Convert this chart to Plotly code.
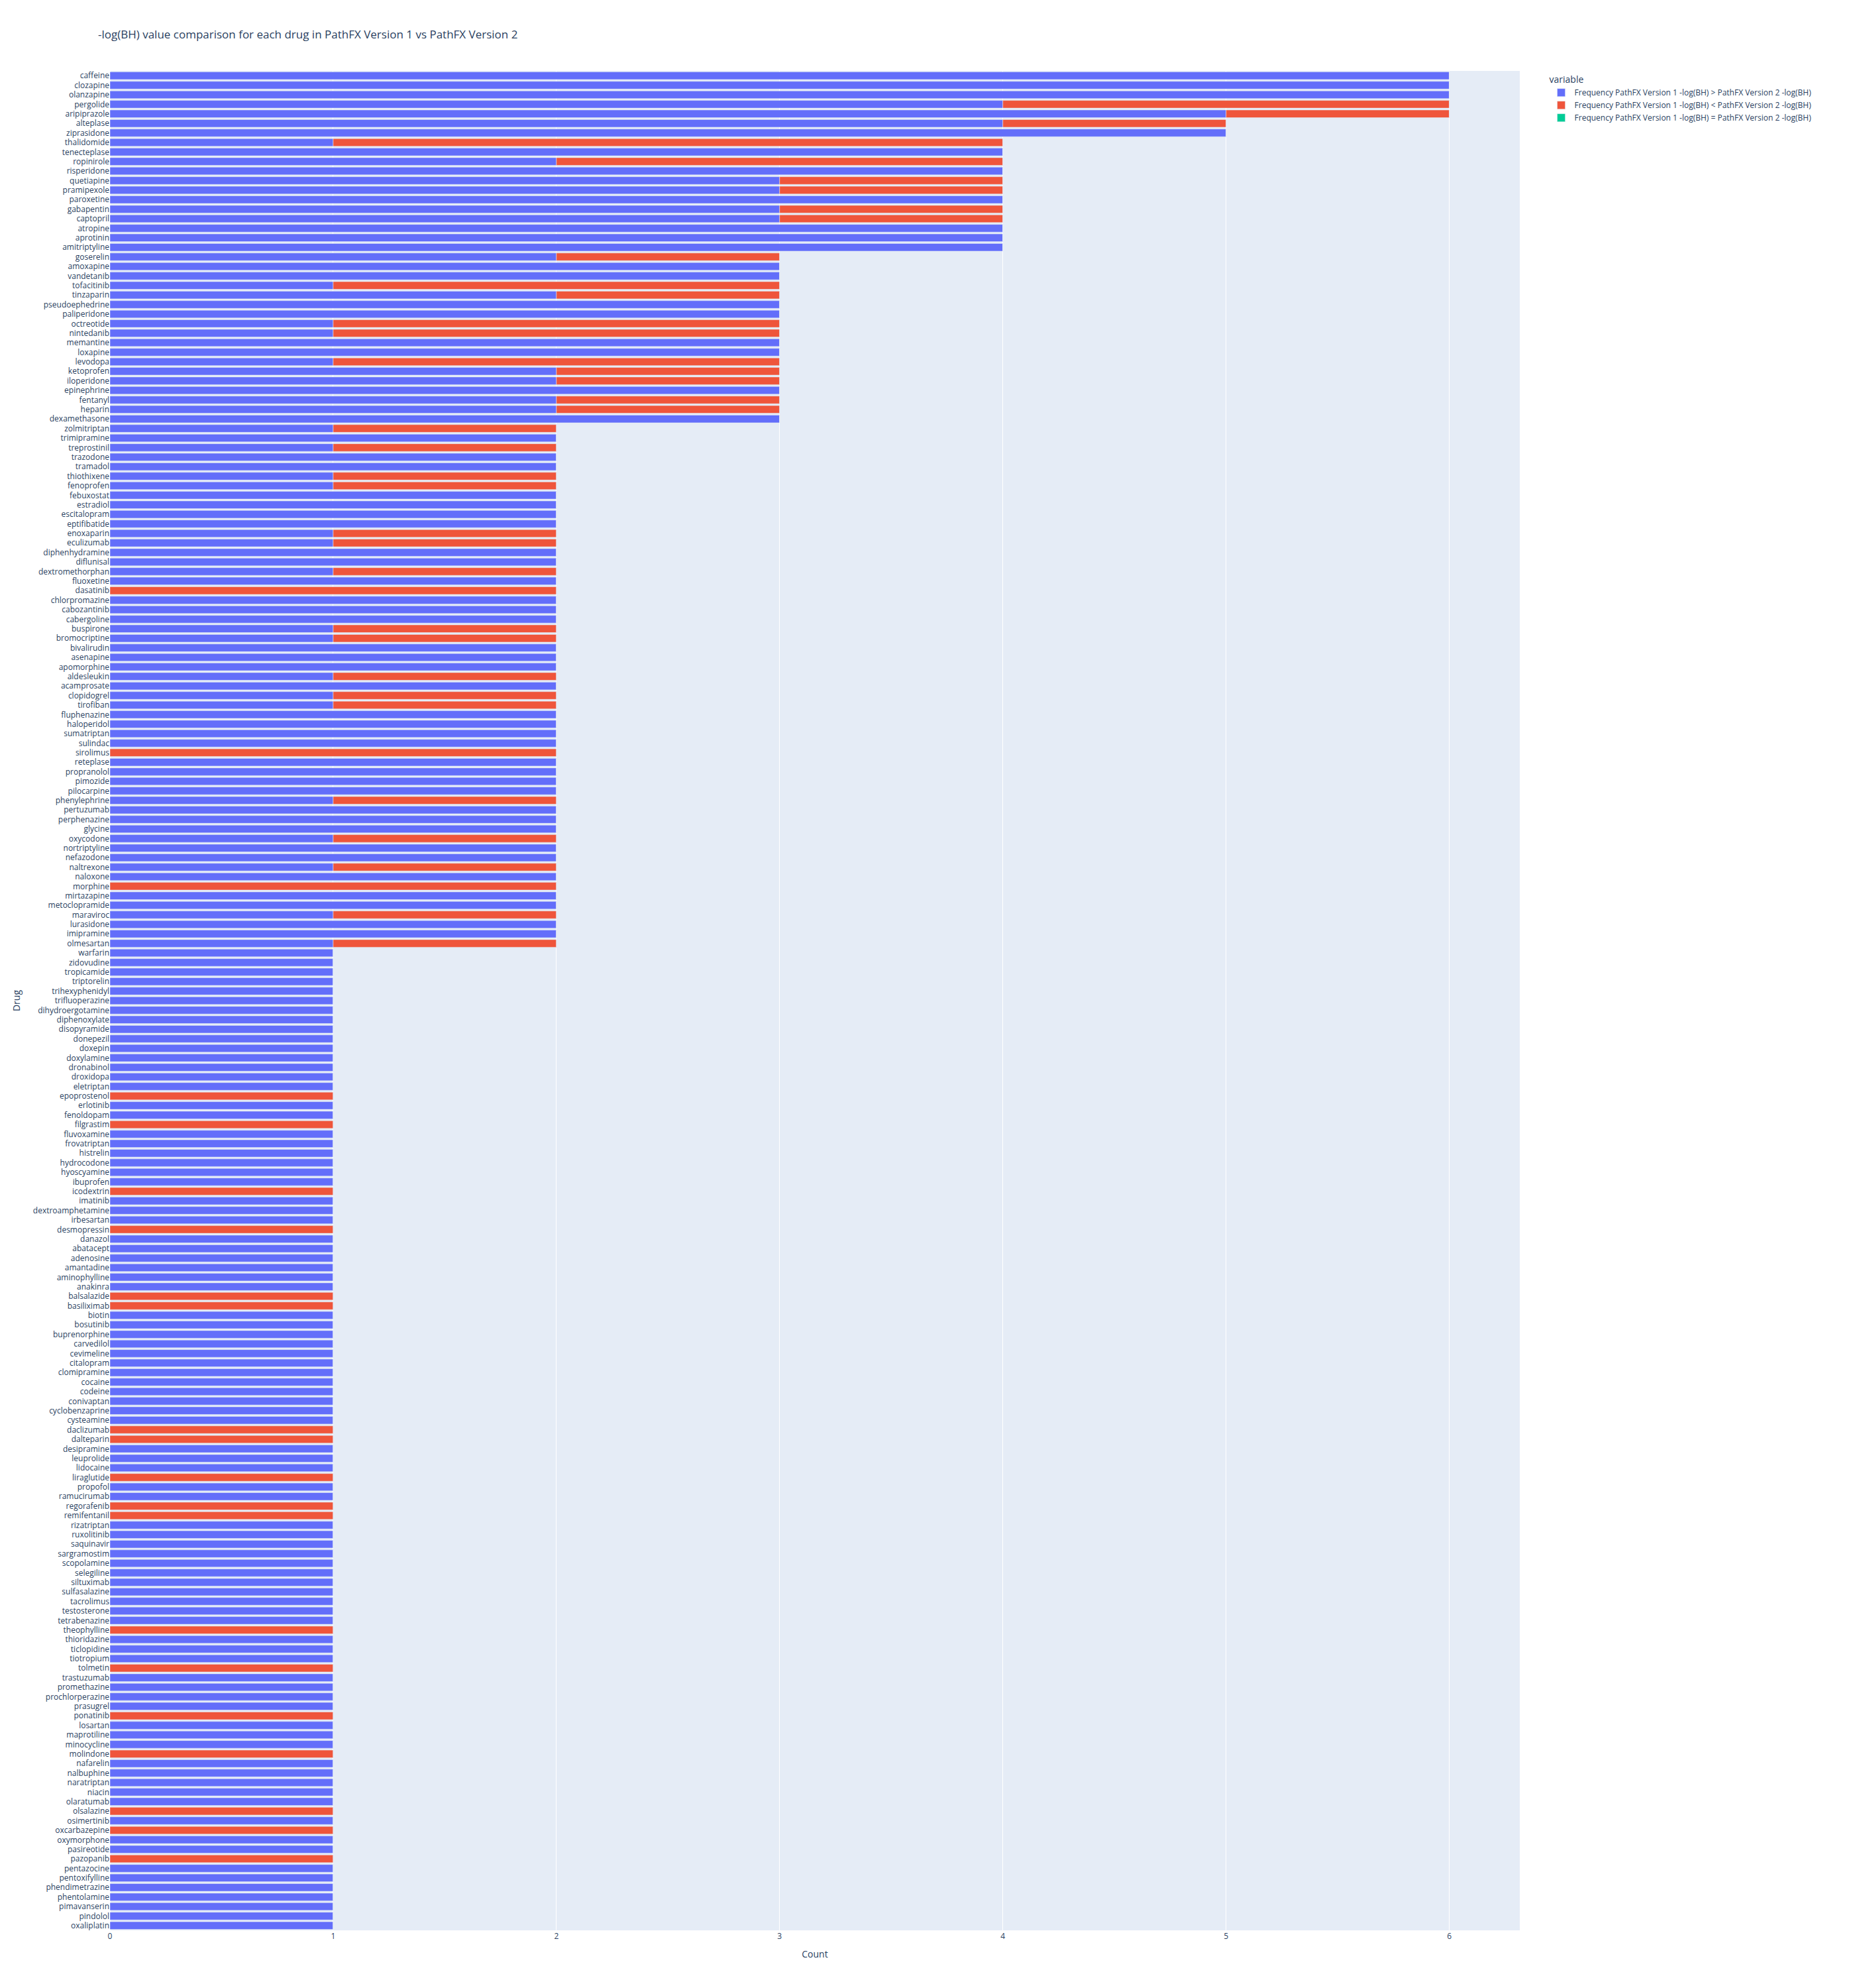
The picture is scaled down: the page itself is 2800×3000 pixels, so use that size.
import plotly.graph_objects as go

# drugs listed top to bottom as they appear in the chart
drugs = [
    "caffeine", "clozapine", "olanzapine", "pergolide", "aripiprazole", "alteplase", "ziprasidone",
    "thalidomide", "tenecteplase", "ropinirole", "risperidone", "quetiapine", "pramipexole", "paroxetine",
    "gabapentin", "captopril", "atropine", "aprotinin", "amitriptyline", "goserelin", "amoxapine",
    "vandetanib", "tofacitinib", "tinzaparin", "pseudoephedrine", "paliperidone", "octreotide", "nintedanib",
    "memantine", "loxapine", "levodopa", "ketoprofen", "iloperidone", "epinephrine", "fentanyl", "heparin",
    "dexamethasone", "zolmitriptan", "trimipramine", "treprostinil", "trazodone", "tramadol", "thiothixene",
    "fenoprofen", "febuxostat", "estradiol", "escitalopram", "eptifibatide", "enoxaparin", "eculizumab",
    "diphenhydramine", "diflunisal", "dextromethorphan", "fluoxetine", "dasatinib", "chlorpromazine",
    "cabozantinib", "cabergoline", "buspirone", "bromocriptine", "bivalirudin", "asenapine", "apomorphine",
    "aldesleukin", "acamprosate", "clopidogrel", "tirofiban", "fluphenazine", "haloperidol", "sumatriptan",
    "sulindac", "sirolimus", "reteplase", "propranolol", "pimozide", "pilocarpine", "phenylephrine",
    "pertuzumab", "perphenazine", "glycine", "oxycodone", "nortriptyline", "nefazodone", "naltrexone",
    "naloxone", "morphine", "mirtazapine", "metoclopramide", "maraviroc", "lurasidone", "imipramine",
    "olmesartan", "warfarin", "zidovudine", "tropicamide", "triptorelin", "trihexyphenidyl",
    "trifluoperazine", "dihydroergotamine", "diphenoxylate", "disopyramide", "donepezil", "doxepin",
    "doxylamine", "dronabinol", "droxidopa", "eletriptan", "epoprostenol", "erlotinib", "fenoldopam",
    "filgrastim", "fluvoxamine", "frovatriptan", "histrelin", "hydrocodone", "hyoscyamine", "ibuprofen",
    "icodextrin", "imatinib", "dextroamphetamine", "irbesartan", "desmopressin", "danazol", "abatacept",
    "adenosine", "amantadine", "aminophylline", "anakinra", "balsalazide", "basiliximab", "biotin",
    "bosutinib", "buprenorphine", "carvedilol", "cevimeline", "citalopram", "clomipramine", "cocaine",
    "codeine", "conivaptan", "cyclobenzaprine", "cysteamine", "daclizumab", "dalteparin", "desipramine",
    "leuprolide", "lidocaine", "liraglutide", "propofol", "ramucirumab", "regorafenib", "remifentanil",
    "rizatriptan", "ruxolitinib", "saquinavir", "sargramostim", "scopolamine", "selegiline", "siltuximab",
    "sulfasalazine", "tacrolimus", "testosterone", "tetrabenazine", "theophylline", "thioridazine",
    "ticlopidine", "tiotropium", "tolmetin", "trastuzumab", "promethazine", "prochlorperazine", "prasugrel",
    "ponatinib", "losartan", "maprotiline", "minocycline", "molindone", "nafarelin", "nalbuphine",
    "naratriptan", "niacin", "olaratumab", "olsalazine", "osimertinib", "oxcarbazepine", "oxymorphone",
    "pasireotide", "pazopanib", "pentazocine", "pentoxifylline", "phendimetrazine", "phentolamine",
    "pimavanserin", "pindolol", "oxaliplatin",
]

# count where version 1 -log(BH) > version 2
v1_greater = [
    6, 6, 6, 4, 5, 4, 5, 1, 4, 2, 4, 3, 3, 4, 3, 3, 4, 4, 4, 2, 3, 3, 1, 2, 3, 3, 1, 1, 3, 3, 1, 2, 2, 3, 2, 2, 3,
    1, 2, 1, 2, 2, 1, 1, 2, 2, 2, 2, 1, 1, 2, 2, 1, 2, 0, 2, 2, 2, 1, 1, 2, 2, 2, 1, 2, 1, 1, 2, 2, 2, 2, 0, 2,
    2, 2, 2, 1, 2, 2, 2, 1, 2, 2, 1, 2, 0, 2, 2, 1, 2, 2, 1,
    1, 1, 1, 1, 1, 1, 1, 1, 1, 1, 1, 1, 1, 1, 1, 0, 1, 1, 0, 1, 1, 1, 1, 1, 1,
    0, 1, 1, 1, 0, 1, 1, 1, 1, 1, 1, 0, 0, 1, 1, 1, 1, 1, 1, 1, 1, 1, 1, 1, 1, 0, 0, 1, 1, 1, 0, 1, 1, 0, 0,
    1, 1, 1, 1, 1, 1, 1, 1, 1, 1, 1, 0, 1, 1, 1, 0, 1, 1, 1, 1, 0, 1, 1, 1, 0, 1, 1, 1, 1, 1, 0, 1, 0, 1, 1, 0,
    1, 1, 1, 1, 1, 1, 1,
]

# count where version 1 -log(BH) < version 2
v1_less = [
    0, 0, 0, 2, 1, 1, 0, 3, 0, 2, 0, 1, 1, 0, 1, 1, 0, 0, 0, 1, 0, 0, 2, 1, 0, 0, 2, 2, 0, 0, 2, 1, 1, 0, 1, 1, 0,
    1, 0, 1, 0, 0, 1, 1, 0, 0, 0, 0, 1, 1, 0, 0, 1, 0, 2, 0, 0, 0, 1, 1, 0, 0, 0, 1, 0, 1, 1, 0, 0, 0, 0, 2, 0,
    0, 0, 0, 1, 0, 0, 0, 1, 0, 0, 1, 0, 2, 0, 0, 1, 0, 0, 1,
    0, 0, 0, 0, 0, 0, 0, 0, 0, 0, 0, 0, 0, 0, 0, 1, 0, 0, 1, 0, 0, 0, 0, 0, 0,
    1, 0, 0, 0, 1, 0, 0, 0, 0, 0, 0, 1, 1, 0, 0, 0, 0, 0, 0, 0, 0, 0, 0, 0, 0, 1, 1, 0, 0, 0, 1, 0, 0, 1, 1,
    0, 0, 0, 0, 0, 0, 0, 0, 0, 0, 0, 1, 0, 0, 0, 1, 0, 0, 0, 0, 1, 0, 0, 0, 1, 0, 0, 0, 0, 0, 1, 0, 1, 0, 0, 1,
    0, 0, 0, 0, 0, 0, 0,
]

# no drug has equal values
v1_equal = [0] * len(drugs)

series = [
    ("Frequency PathFX Version 1 -log(BH) > PathFX Version 2 -log(BH)", v1_greater, "#636efa"),
    ("Frequency PathFX Version 1 -log(BH) < PathFX Version 2 -log(BH)", v1_less, "#EF553B"),
    ("Frequency PathFX Version 1 -log(BH) = PathFX Version 2 -log(BH)", v1_equal, "#00cc96"),
]

fig = go.Figure()
for name, vals, color in series:
    fig.add_trace(go.Bar(x=vals, y=drugs, orientation="h", name=name, marker_color=color))

fig.update_layout(
    barmode="relative",
    width=2800,
    height=3000,
    margin=dict(l=158, r=514, t=99, b=95),
    title="-log(BH) value comparison for each drug in PathFX Version 1 vs PathFX Version 2",
    legend_title_text="variable",
    xaxis_title="Count",
    yaxis_title="Drug",
)
fig.update_yaxes(categoryorder="array", categoryarray=drugs[::-1])

fig.write_html("out.html")
